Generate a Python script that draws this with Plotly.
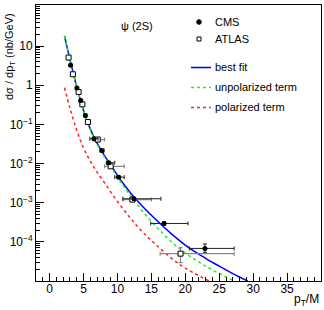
import plotly.graph_objects as go

# ---- data ----
cms_x = [3.10, 4.03, 4.58, 5.27, 6.54, 7.72, 8.71, 10.18, 12.44, 16.87, 22.9]
cms_y = [3.26, 0.85, 0.41, 0.17, 0.043, 0.0215, 0.0105, 0.0045, 0.00126, 2.95e-4, 6.8e-5]
cms_xm = [0.1, 0.15, 0.15, 0.2, 0.6, 0.3, 0.34, 0.58, 1.64, 1.97, 2.3]
cms_xp = [0.1, 0.15, 0.15, 0.2, 0.6, 0.3, 0.89, 0.82, 3.96, 3.53, 4.3]
cms_yp = [0.2, 0.05, 0.03, 0.012, 0.003, 0.0015, 0.0008, 0.0003, 1e-4, 3e-5, 2e-5]
cms_ym = [0.2, 0.05, 0.03, 0.012, 0.003, 0.0015, 0.0008, 0.0003, 1e-4, 3e-5, 1.4e-5]

atlas_x = [2.80, 3.44, 4.28, 4.83, 5.65, 7.1, 9.0, 12.2, 19.3]
atlas_y = [5.1, 1.91, 0.675, 0.326, 0.115, 0.041, 0.0085, 0.0012, 5e-5]
atlas_xm = [0.1, 0.1, 0.15, 0.15, 0.25, 0.45, 0.9, 1.4, 3.0]
atlas_xp = [0.1, 0.1, 0.15, 0.15, 0.25, 1.0, 2.0, 2.8, 7.9]
atlas_yp = [0.3, 0.12, 0.04, 0.02, 0.008, 0.003, 0.0006, 1e-4, 2.1e-5]
atlas_ym = [0.3, 0.12, 0.04, 0.02, 0.008, 0.003, 0.0006, 1e-4, 2.05e-5]

fit_x = [2.2, 3, 4, 5, 6, 7, 8, 9, 10, 11, 12.5, 14, 16.2, 18, 20.3, 23, 25, 27, 29.2]
fit_y = [18.2, 4.57, 0.912, 0.229, 0.0759, 0.0331, 0.0170, 0.00933, 0.00501, 0.00288,
         0.00135, 7.08e-4, 3.02e-4, 1.58e-4, 7.59e-5, 3.8e-5, 2.4e-5, 1.55e-5, 1e-5]

unpol_x = [2.2, 3, 4, 5, 6, 7, 8, 9, 10, 11, 12.7, 14.5, 16.2, 19.1, 23, 27.2]
unpol_y = [18.2, 4.57, 0.912, 0.224, 0.0724, 0.0309, 0.0155, 0.00832, 0.00447, 0.00251,
           0.001, 4.17e-4, 2.0e-4, 6.76e-5, 2.4e-5, 1e-5]

pol_x = [2.2, 3, 4, 5, 6, 7, 8.3, 10, 11.8, 13.5, 15.4, 19.1, 23.5]
pol_y = [0.871, 0.263, 0.0708, 0.0251, 0.01148, 0.00603, 0.00288, 0.00107, 4.27e-4,
         1.95e-4, 9.33e-5, 2.69e-5, 1e-5]

y_tickvals = [1e-4, 1e-3, 1e-2, 1e-1, 1, 10]
y_ticktext = ["10<sup>\u22124</sup>", "10<sup>\u22123</sup>", "10<sup>\u22122</sup>",
              "10<sup>\u22121</sup>", "1", "10"]
x_tickvals = [0, 5, 10, 15, 20, 25, 30, 35]

FONT = "Liberation Sans, Arial, Helvetica, sans-serif"

fig = go.Figure()

fig.add_trace(go.Scatter(x=fit_x, y=fit_y, mode="lines", line=dict(color="#0000ff", width=1.5, shape="spline"), hoverinfo="skip"))
fig.add_trace(go.Scatter(x=unpol_x, y=unpol_y, mode="lines", line=dict(color="#22ee22", width=1.5, dash="3px,3px", shape="spline"), hoverinfo="skip"))
fig.add_trace(go.Scatter(x=pol_x, y=pol_y, mode="lines", line=dict(color="#ff2222", width=1.5, dash="3px,3px", shape="spline"), hoverinfo="skip"))

fig.add_trace(go.Scatter(
    x=atlas_x, y=atlas_y, mode="markers",
    marker=dict(symbol="square", size=5, color="white", line=dict(width=1, color="black")),
    error_x=dict(type="data", symmetric=False, array=atlas_xp, arrayminus=atlas_xm, color="#888888", thickness=1.2, width=2),
    error_y=dict(type="data", symmetric=False, array=atlas_yp, arrayminus=atlas_ym, color="#888888", thickness=1.2, width=2),
))
fig.add_trace(go.Scatter(
    x=cms_x, y=cms_y, mode="markers",
    marker=dict(symbol="circle", size=5, color="black"),
    error_x=dict(type="data", symmetric=False, array=cms_xp, arrayminus=cms_xm, color="#222222", thickness=1, width=2),
    error_y=dict(type="data", symmetric=False, array=cms_yp, arrayminus=cms_ym, color="#222222", thickness=1, width=2),
))

def px(x):
    return (x - 36) / 285.0

def py(y):
    return (281 - y) / 276.0

shapes = []
annotations = []
shapes.append(dict(type="circle", xref="paper", yref="paper",
                   x0=px(196.7), x1=px(201.3), y0=py(24.3), y1=py(19.7),
                   fillcolor="black", line=dict(color="black", width=1)))
shapes.append(dict(type="rect", xref="paper", yref="paper",
                   x0=px(197), x1=px(201), y0=py(41), y1=py(37),
                   fillcolor="white", line=dict(color="black", width=1)))
for yy, col, dash in [(67.5, "#0000ff", "solid"), (87.5, "#22ee22", "3px,3px"), (107.5, "#ff2222", "3px,3px")]:
    shapes.append(dict(type="line", xref="paper", yref="paper",
                       x0=px(191), x1=px(211), y0=py(yy), y1=py(yy),
                       line=dict(color=col, width=1.5, dash=dash)))
for yy, txt in [(22, "CMS"), (39, "ATLAS"), (67, "best fit"), (87, "unpolarized term"), (107, "polarized term")]:
    annotations.append(dict(text=txt, xref="paper", yref="paper", x=px(213), y=py(yy),
                            xanchor="left", yanchor="middle", showarrow=False,
                            font=dict(family=FONT, size=11, color="black")))
annotations.append(dict(text="\u03c8 (2S)", xref="paper", yref="paper", x=px(137), y=py(26),
                        xanchor="center", yanchor="middle", showarrow=False,
                        font=dict(family=FONT, size=11, color="black")))
annotations.append(dict(text="d\u03c3 / dp<sub>T</sub> (nb/GeV)", xref="paper", yref="paper",
                        x=px(10), y=py(57), textangle=-90, xanchor="center", yanchor="middle",
                        showarrow=False, font=dict(family=FONT, size=11, color="black")))
annotations.append(dict(text="p<sub>T</sub>/M", xref="paper", yref="paper",
                        x=px(321), y=py(300), xanchor="right", yanchor="middle",
                        showarrow=False, font=dict(family=FONT, size=12, color="black")))

fig.update_layout(
    width=324, height=310,
    margin=dict(l=36, r=3, t=5, b=29),
    paper_bgcolor="white", plot_bgcolor="white",
    showlegend=False,
    shapes=shapes, annotations=annotations,
    font=dict(family=FONT, size=12, color="black"),
)
fig.update_xaxes(
    range=[-2, 40], tickvals=x_tickvals, ticks="inside", ticklen=8, tickwidth=1,
    tickcolor="black", showline=True, linecolor="black", linewidth=1, mirror=True,
    showgrid=False, zeroline=False, tickfont=dict(size=12), automargin=False,
    ticklabelstandoff=-3,
    minor=dict(ticks="inside", ticklen=4, dtick=1, tick0=0, tickcolor="black", showgrid=False),
)
fig.update_yaxes(
    type="log", range=[-5, 2.05], tickvals=y_tickvals, ticktext=y_ticktext,
    ticks="inside", ticklen=8, tickwidth=1, tickcolor="black",
    showline=True, linecolor="black", linewidth=1, mirror=True,
    showgrid=False, zeroline=False, tickfont=dict(size=12), automargin=False,
    minor=dict(ticks="inside", ticklen=4, dtick="D1", tickcolor="black", showgrid=False),
)

fig.write_html("out.html", config={"displayModeBar": False},
               post_script="document.body.style.margin='0';document.body.style.overflow='hidden';")
